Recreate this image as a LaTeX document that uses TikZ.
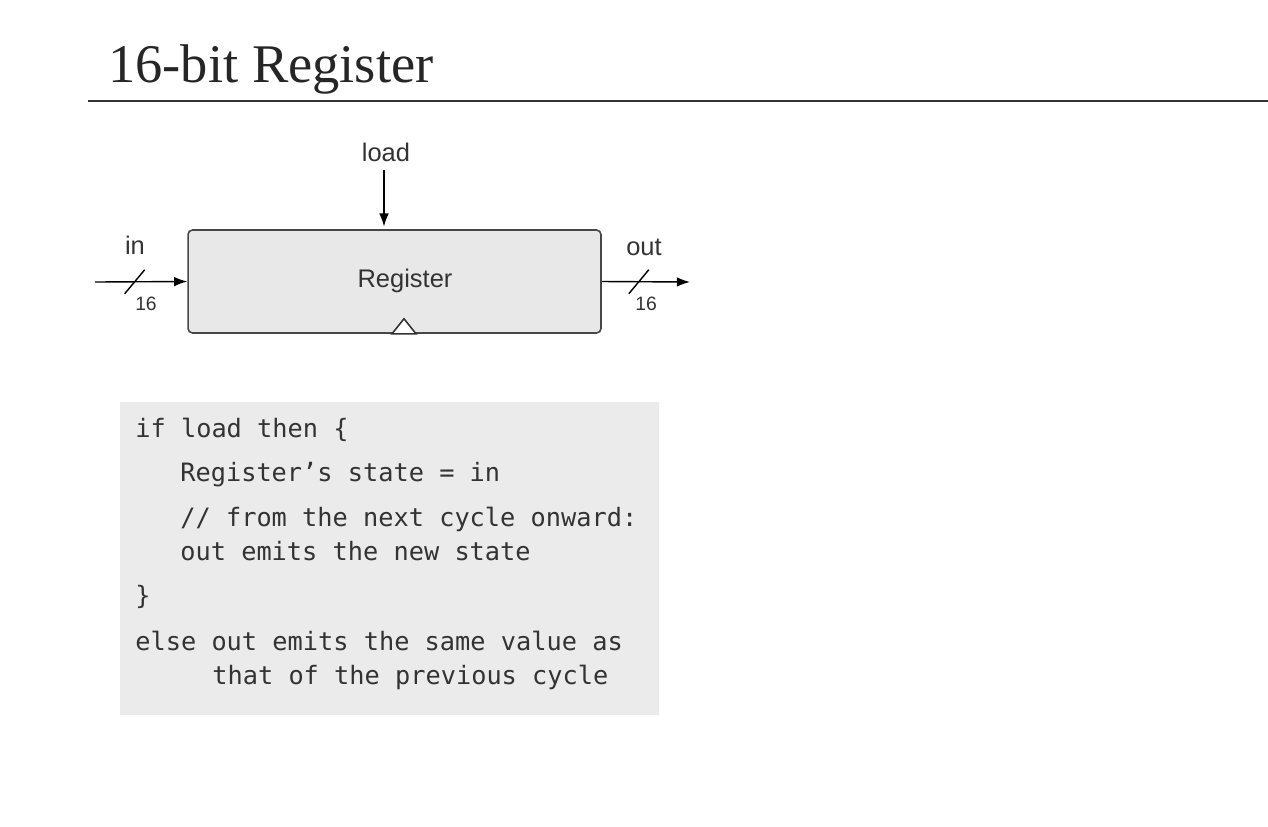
\documentclass[tikz,border=0pt]{standalone}
\usepackage{fontspec}
\setmainfont{Liberation Serif}
\newfontfamily\lblfont{Liberation Sans}
\newfontfamily\codefont{DejaVu Sans Mono}
\usepackage{tikz}
\usetikzlibrary{arrows.meta}

\definecolor{boxgray}{HTML}{E8E8E8}
\definecolor{codegray}{HTML}{EBEBEB}
\definecolor{ink}{HTML}{333333}

\begin{document}
\begin{tikzpicture}[x=0.02cm, y=-0.02cm,
		lbl/.style={font=\lblfont\fontsize{14.5}{16}\selectfont, text=ink, inner sep=1pt},
		bus/.style={font=\lblfont\fontsize{11}{12}\selectfont, text=ink, inner sep=0pt},
		code/.style={anchor=base west, inner sep=0pt, font=\codefont\fontsize{14.4}{16}\selectfont, text=ink},
		reg/.style={draw=ink!90, fill=boxgray, line width=0.9pt, rounded corners=2.5pt, minimum width=8.26cm, minimum height=2.06cm},
		sig/.style={draw=black, line width=0.8pt, -{Latex[length=7.5pt,width=5.5pt]}}]
				\useasboundingbox (0,0) rectangle (1268,826);
				
				% title
				\path (108,82) node[anchor=base west, inner sep=0pt, font=\fontsize{31}{34}\selectfont, text=black!85] (t) {16-bit Register};
				\draw[ink, line width=1.2pt] (88,101) -- (1268,101);
				
				% register
				\path (394.5,281.5) node[reg] (r) {}
				(405,281) node[lbl] (rl) {Register}
				(386,152) node[lbl] (ld) {load}
				(135,245) node[lbl] (in) {in}
				(644,247) node[lbl] (out) {out}
				(146,304) node[bus] (w1) {16}
				(646,304) node[bus] (w2) {16};
				\coordinate (i0) at (95,282);
				\coordinate (o0) at (690,282);
				\coordinate (l0) at (384,170);
				
				\draw[sig, shorten >=1.5pt] (l0) -- (l0 |- r.north);
				\draw[sig] (i0) -- coordinate[pos=.43] (s1) (r.west);
				\draw[sig] (r.east) -- coordinate[pos=.42] (s2) (o0);
				\draw[line width=0.8pt] (s1) +(-10,12) -- +(10,-12)
				(s2) +(-10,12) -- +(10,-12);
				\draw[ink, line width=0.9pt, fill=white] ([xshift=0.19cm]r.south) +(-12,0) -- +(0,-15) -- +(12,0) -- cycle;
				
				% behaviour
				\fill[codegray] (120,402) rectangle (659,715);
				\path (135,437) node[code] (c1) {if load then \{}
				(180,481) node[code] (c2) {Register’s state = in}
				(180,526) node[code] (c3) {// from the next cycle onward:}
				(180,560) node[code] (c4) {out emits the new state}
				(135,604) node[code] (c5) {\}}
				(135,650) node[code] (c6) {else out emits the same value as}
				(212,684) node[code] (c7) {that of the previous cycle};
			\end{tikzpicture}
\end{document}
